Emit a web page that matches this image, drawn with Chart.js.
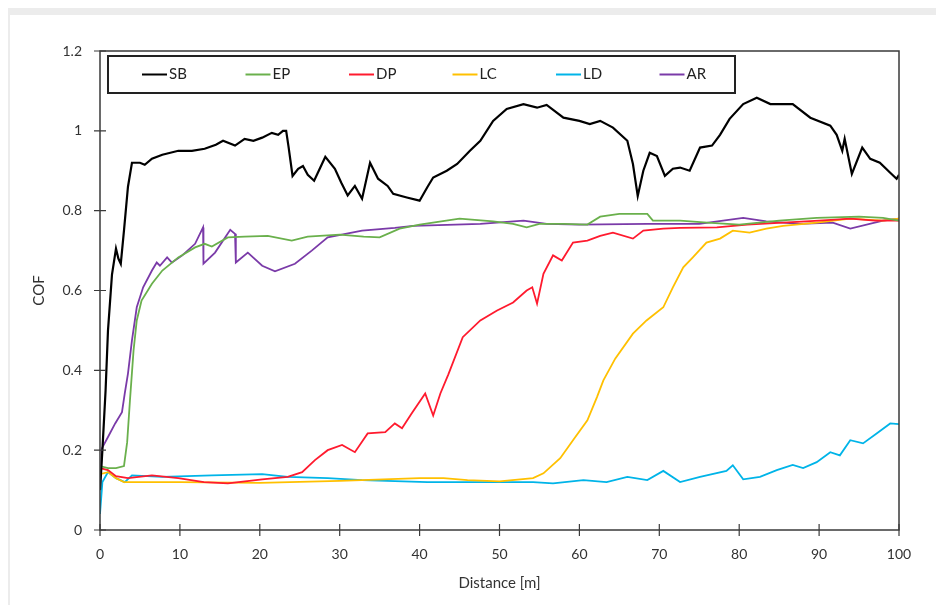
<!DOCTYPE html>
<html lang="en">
<head>
    <meta charset="UTF-8">
    <title>COF vs Distance</title>
    <script src="https://cdn.jsdelivr.net/npm/chart.js"></script>
    <style>
        html, body { margin: 0; padding: 0; background: #fff; }
        .frame {
            position: absolute; left: 8px; top: 8px; width: 928px; height: 597px;
            border-top: 7px solid #ececec; border-left: 2px solid #ececec;
            box-sizing: border-box; pointer-events: none;
        }
        .wrap { position: absolute; left: 0; top: 0; width: 936px; height: 605px; }
    </style>
</head>
<body>
    <div class="wrap"><canvas id="cofChart" width="936" height="605"></canvas></div>
    <div class="frame"></div>

    <script>
        // axis ticks
        const xTicks = [0, 10, 20, 30, 40, 50, 60, 70, 80, 90, 100];
        const yTicks = [0, 0.2, 0.4, 0.6, 0.8, 1, 1.2];
        const yTickLabels = ['0', '0.2', '0.4', '0.6', '0.8', '1', '1.2'];

        // SB
        const sbDist = [0,0.3,0.7,1,1.5,2,2.3,2.6,3,3.5,4,5,5.6,6.5,7.8,9.8,11.5,13.1,14.5,15.4,16.9,18.1,19.2,20.3,21.5,22.3,22.9,23.3,23.6,24.1,24.8,25.4,26,26.8,27.5,28.2,29.4,30.2,31,31.9,32.8,33.8,34.8,36,36.7,38.4,40,41,41.7,43.4,44.7,46.3,47.6,49.2,50.9,53,54.7,55.9,58,60,61.3,62.6,64.2,66,66.7,67.3,68,68.8,69.7,70.7,71.7,72.6,73.8,75.1,76.6,77.6,78.8,80.5,82.2,83.9,86.7,88.9,91.4,92.2,92.9,93.2,94.1,95.4,96.4,97.6,98.9,99.7,100];
        const sbCof  = [0.10,0.2,0.35,0.5,0.64,0.705,0.68,0.667,0.75,0.86,0.92,0.92,0.915,0.93,0.94,0.95,0.95,0.955,0.965,0.975,0.963,0.98,0.975,0.983,0.995,0.99,1.0,1.0,0.96,0.887,0.905,0.912,0.89,0.875,0.905,0.935,0.905,0.87,0.838,0.862,0.83,0.92,0.88,0.862,0.842,0.833,0.825,0.86,0.883,0.9,0.917,0.95,0.975,1.025,1.055,1.067,1.058,1.065,1.033,1.025,1.017,1.025,1.008,0.975,0.917,0.837,0.9,0.945,0.937,0.887,0.905,0.908,0.9,0.958,0.963,0.99,1.03,1.067,1.083,1.067,1.067,1.033,1.013,0.99,0.95,0.98,0.892,0.958,0.93,0.92,0.895,0.88,0.89];

        // EP
        const epDist = [0,1,2,3,3.4,3.75,4.2,4.6,5.2,6.5,7.8,9.8,11.9,13.1,14,16,18.1,21,24,26,30,33,35,37.5,40,45,49.2,51.7,53.4,55,58,61,62.6,65,68.5,69.2,72.6,76,80,85,89.7,95,98,100];
        const epCof  = [0.16,0.155,0.155,0.16,0.22,0.325,0.45,0.525,0.575,0.617,0.65,0.683,0.708,0.717,0.71,0.733,0.735,0.737,0.725,0.735,0.74,0.735,0.733,0.755,0.765,0.78,0.773,0.767,0.758,0.767,0.767,0.765,0.785,0.792,0.792,0.775,0.775,0.77,0.765,0.775,0.782,0.785,0.782,0.775];

        // DP
        const dpDist = [0,1,2,3.5,6.5,9.8,13,16,20.3,23.5,25.3,26.9,28.5,30.3,31.9,33.5,35.7,36.9,37.8,39,40.7,41.7,42.6,43.6,45.4,47.6,49.7,51.7,53.4,54.1,54.7,55.5,56.7,57.8,59.2,61,62.6,64.2,66.7,68,70.5,72.6,77.2,81,85.5,90,93.9,97,100];
        const dpCof  = [0.155,0.15,0.135,0.13,0.137,0.13,0.12,0.117,0.127,0.133,0.145,0.175,0.2,0.213,0.195,0.242,0.245,0.267,0.255,0.292,0.342,0.287,0.342,0.39,0.483,0.525,0.55,0.57,0.6,0.608,0.567,0.642,0.688,0.675,0.72,0.725,0.737,0.745,0.73,0.75,0.755,0.757,0.758,0.765,0.77,0.775,0.78,0.775,0.775];

        // LC
        const lcDist = [0,1,2,3,10,20,30,40,43,46,50,54.2,55.5,57.6,59.2,61,62.2,63,64.5,66.7,68.4,70.5,71.7,73,74.2,75.9,77.6,79.2,81.3,83.4,85.5,89.7,93.9,98,100];
        const lcCof  = [0.14,0.145,0.13,0.12,0.12,0.118,0.123,0.13,0.13,0.125,0.122,0.13,0.142,0.18,0.225,0.275,0.333,0.375,0.43,0.492,0.525,0.558,0.608,0.658,0.683,0.72,0.73,0.75,0.745,0.755,0.762,0.77,0.78,0.775,0.78];

        // LD
        const ldDist = [0,0.3,1,2,3.1,4,7.8,14,20.3,23.5,28.5,32.8,41,49.4,54.2,56.7,60.5,63.4,66,68.5,70.5,72.6,75.1,78.4,79.2,80.5,82.6,84.7,86.7,88,89.7,91.4,92.6,93.9,95.5,97.2,98.9,100];
        const ldCof  = [0.04,0.12,0.145,0.13,0.12,0.137,0.133,0.137,0.14,0.133,0.13,0.125,0.12,0.12,0.12,0.117,0.125,0.12,0.133,0.125,0.148,0.12,0.133,0.148,0.162,0.127,0.133,0.15,0.163,0.155,0.17,0.195,0.187,0.225,0.217,0.242,0.267,0.265];

        // AR
        const arDist = [0,0.25,1,1.9,2.75,3.1,3.5,4,4.6,5.4,6.5,7.1,7.5,8.4,9,10.3,11.9,12.9,12.95,14.4,16.3,16.9,17,18.5,20.3,21.9,24.4,26.5,28.5,32.8,36.9,39.2,47.6,53,55.9,60,68.5,72.6,75,80.5,83.4,87.6,91.7,93.9,98,100];
        const arCof  = [0.1,0.205,0.233,0.267,0.295,0.342,0.392,0.475,0.558,0.608,0.65,0.67,0.662,0.683,0.67,0.688,0.717,0.758,0.667,0.695,0.752,0.742,0.67,0.695,0.662,0.648,0.667,0.7,0.733,0.75,0.757,0.762,0.767,0.775,0.767,0.765,0.767,0.767,0.767,0.782,0.773,0.767,0.77,0.755,0.775,0.78];

        const FONT = 'Lato, "Open Sans", "DejaVu Sans", sans-serif';

        function pts(xs, ys) {
            return xs.map((x, i) => ({ x: x, y: ys[i] }));
        }

        function series(label, xs, ys, color, width) {
            return {
                label: label,
                data: pts(xs, ys),
                borderColor: color,
                backgroundColor: color,
                borderWidth: width,
                pointRadius: 0,
                tension: 0,
                fill: false
            };
        }

        // box around the plot plus tick marks that cross the axes
        const framePlugin = {
            id: 'frame',
            afterDraw(chart) {
                const { ctx, chartArea: a, scales } = chart;
                ctx.save();
                ctx.strokeStyle = '#3a3a3a';
                ctx.lineWidth = 1.5;
                ctx.strokeRect(a.left, a.top, a.right - a.left, a.bottom - a.top);
                ctx.lineWidth = 1.2;
                ctx.beginPath();
                xTicks.forEach(v => {
                    const px = scales.x.getPixelForValue(v);
                    ctx.moveTo(px, a.bottom - 6);
                    ctx.lineTo(px, a.bottom + 6);
                });
                yTicks.forEach(v => {
                    const py = scales.y.getPixelForValue(v);
                    ctx.moveTo(a.left - 6, py);
                    ctx.lineTo(a.left + 6, py);
                });
                ctx.stroke();
                ctx.restore();
            }
        };

        // boxed legend inside the plot area
        const boxLegend = {
            id: 'boxLegend',
            afterDraw(chart) {
                const { ctx, chartArea: a } = chart;
                const left = a.left + 8, top = a.top + 5, w = 627, h = 37;
                ctx.save();
                ctx.fillStyle = '#fff';
                ctx.fillRect(left, top, w, h);
                ctx.strokeStyle = '#222';
                ctx.lineWidth = 2;
                ctx.strokeRect(left, top, w, h);
                ctx.font = '15px ' + FONT;
                ctx.textBaseline = 'middle';
                chart.data.datasets.forEach((ds, i) => {
                    const x0 = left + 34 + i * 103.5;
                    const y0 = top + h / 2;
                    ctx.strokeStyle = ds.borderColor;
                    ctx.lineWidth = 2;
                    ctx.beginPath();
                    ctx.moveTo(x0, y0);
                    ctx.lineTo(x0 + 25, y0);
                    ctx.stroke();
                    ctx.fillStyle = '#222';
                    ctx.fillText(ds.label, x0 + 27, y0);
                });
                ctx.restore();
            }
        };

        new Chart(document.getElementById('cofChart'), {
            type: 'line',
            data: {
                datasets: [
                    series('SB', sbDist, sbCof, '#000000', 2.2),
                    series('EP', epDist, epCof, '#6ab04c', 1.8),
                    series('DP', dpDist, dpCof, '#ff1a2e', 1.8),
                    series('LC', lcDist, lcCof, '#ffc000', 1.8),
                    series('LD', ldDist, ldCof, '#00b4e8', 1.8),
                    series('AR', arDist, arCof, '#7a3aa8', 1.8)
                ]
            },
            options: {
                responsive: false,
                animation: false,
                layout: { padding: { left: 30, top: 51, right: 37, bottom: 13 } },
                plugins: {
                    legend: { display: false },
                    tooltip: { enabled: false }
                },
                scales: {
                    x: {
                        type: 'linear',
                        min: 0, max: 100,
                        afterBuildTicks: s => { s.ticks = xTicks.map(v => ({ value: v })); },
                        afterFit: s => { s.height = 62; },
                        grid: { display: false },
                        border: { display: false },
                        ticks: { color: '#333', font: { family: FONT, size: 14 }, padding: 8, maxRotation: 0 },
                        title: { display: true, text: 'Distance [m]', color: '#333', font: { family: FONT, size: 15 }, padding: { top: 6, bottom: 0 } }
                    },
                    y: {
                        min: 0, max: 1.2,
                        afterBuildTicks: s => { s.ticks = yTicks.map(v => ({ value: v })); },
                        afterFit: s => { s.width = 70; },
                        grid: { display: false },
                        border: { display: false },
                        ticks: {
                            color: '#333', font: { family: FONT, size: 14 }, padding: 10,
                            callback: (v, i) => yTickLabels[i]
                        },
                        title: { display: true, text: 'COF', color: '#333', font: { family: FONT, size: 15 }, padding: { top: 0, bottom: 0 } }
                    }
                }
            },
            plugins: [framePlugin, boxLegend]
        });
    </script>
</body>
</html>
